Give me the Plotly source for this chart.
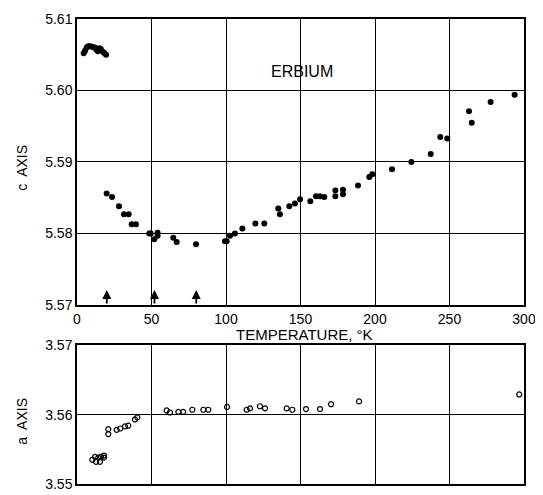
import plotly.graph_objects as go

# c axis (filled dots)
T_c = [4.5, 5.5, 6.5, 7.5, 9, 10.5, 12, 13, 14, 15, 16, 17.5, 18.5, 19.5,
       19.9, 23.5, 28.2, 31.5, 34.7, 36.7, 39.6, 48.5, 49.5, 51.9, 54.1, 54.1,
       64.6, 66.9, 79.9, 99.3, 100.4, 102.7, 106, 111, 119.7, 125.7, 135.1, 136.2,
       142.5, 146.3, 149.7, 156.6, 160.4, 163.1, 166, 173.4, 173.4, 178.5, 178.5,
       188.6, 196.2, 198.2, 211.4, 224.4, 237.4, 243.8, 248.5, 263.1, 264.9, 277.6, 293.7]
c_vals = [5.6052, 5.6056, 5.6060, 5.6062, 5.6062, 5.6061, 5.6060, 5.6057, 5.6055, 5.6059,
          5.6058, 5.6054, 5.6052, 5.6050,
          5.5856, 5.5851, 5.5838, 5.5827, 5.5827, 5.5813, 5.5813, 5.5800, 5.5800, 5.5792,
          5.5801, 5.5797, 5.5794, 5.5788, 5.5785, 5.5789, 5.5789, 5.5797, 5.5800, 5.5807,
          5.5814, 5.5814, 5.5835, 5.5827, 5.5838, 5.5842, 5.5848, 5.5845, 5.5852, 5.5852,
          5.5851, 5.5860, 5.5852, 5.5861, 5.5855, 5.5867, 5.5879, 5.5883, 5.5890, 5.5900,
          5.5911, 5.5935, 5.5933, 5.5971, 5.5955, 5.5984, 5.5994]

# a axis (open circles)
T_a = [10.3, 12.1, 12.8, 14.3, 15.4, 16.1, 18.1, 18.1, 21.0, 21.0, 26.6, 29.0,
       32.2, 34.4, 38.9, 40.5, 60.2, 62.4, 68.0, 71.3, 77.4, 84.8, 88.1, 100.7,
       113.9, 116.1, 122.8, 126.2, 140.7, 144.5, 153.7, 163.1, 170.5, 189.3, 296.8]
a_vals = [3.5535, 3.5539, 3.5532, 3.5538, 3.5532, 3.5539, 3.5541, 3.5538, 3.5579, 3.5572,
          3.5578, 3.5580, 3.5583, 3.5584, 3.5593, 3.5596, 3.5606, 3.5603, 3.5604, 3.5604,
          3.5607, 3.5607, 3.5607, 3.5611, 3.5607, 3.5609, 3.5612, 3.5609, 3.5609, 3.5607,
          3.5608, 3.5608, 3.5615, 3.5619, 3.5629]

# transition arrows (temperatures)
arrow_T = [20, 52, 80]

x_ticks = [0, 50, 100, 150, 200, 250, 300]
c_ticks = [5.57, 5.58, 5.59, 5.60, 5.61]
c_tick_text = ["5.57", "5.58", "5.59", "5.60", "5.61"]
a_ticks = [3.55, 3.56, 3.57]
a_tick_text = ["3.55", "3.56", "3.57"]

FONT = "Liberation Sans"

fig = go.Figure()
fig.add_trace(go.Scatter(x=T_c, y=c_vals, mode="markers", xaxis="x", yaxis="y",
                         marker=dict(color="black", size=6), showlegend=False))
fig.add_trace(go.Scatter(x=T_a, y=a_vals, mode="markers", xaxis="x2", yaxis="y2",
                         marker=dict(color="black", size=5, symbol="circle-open",
                                     line=dict(width=1.2, color="black")),
                         showlegend=False))

axis_common = dict(showline=True, mirror=True, linecolor="black", linewidth=1.5,
                   showgrid=True, gridcolor="black", gridwidth=1.2, zeroline=False,
                   ticks="", tickfont=dict(family=FONT, size=14, color="black"))

# page body has an 8px margin, so the figure is sized 8px smaller than the window
fig.update_layout(
    width=535, height=487,
    margin=dict(l=69, r=19, t=6, b=3),
    paper_bgcolor="white", plot_bgcolor="white",
    xaxis=dict(domain=[0, 1], range=[0, 300], tickvals=x_ticks, anchor="y",
               ticklabelstandoff=0, **axis_common),
    yaxis=dict(domain=[0.385, 1], range=[5.57, 5.61], tickvals=c_ticks, ticktext=c_tick_text,
               anchor="x", **axis_common),
    xaxis2=dict(domain=[0, 1], range=[0, 300], tickvals=x_ticks, anchor="y2",
                showticklabels=False, **axis_common),
    yaxis2=dict(domain=[0, 0.2985], range=[3.55, 3.57], tickvals=a_ticks, ticktext=a_tick_text,
                anchor="x2", **axis_common),
)

annotations = [
    dict(text="ERBIUM", x=151, y=5.6027, xref="x", yref="y", showarrow=False,
         font=dict(family=FONT, size=16, color="black")),
    dict(text="TEMPERATURE, °K", x=0.508, y=0.321, xref="paper", yref="paper",
         xanchor="center", yanchor="middle",
         showarrow=False, font=dict(family=FONT, size=15, color="black")),
    dict(text="c  AXIS", x=-0.123, y=0.68, xref="paper", yref="paper", textangle=-90,
         xanchor="center", yanchor="middle",
         showarrow=False, font=dict(family=FONT, size=14, color="black")),
    dict(text="a  AXIS", x=-0.123, y=0.134, xref="paper", yref="paper", textangle=-90,
         xanchor="center", yanchor="middle",
         showarrow=False, font=dict(family=FONT, size=14, color="black")),
]
for t in arrow_T:
    annotations.append(dict(text="", x=t, y=5.5721, ax=t, ay=5.5700, xref="x", yref="y",
                            axref="x", ayref="y", showarrow=True, arrowhead=2,
                            arrowsize=1, arrowwidth=1.8, arrowcolor="black"))
fig.update_layout(annotations=annotations)

fig.write_html("out.html")
